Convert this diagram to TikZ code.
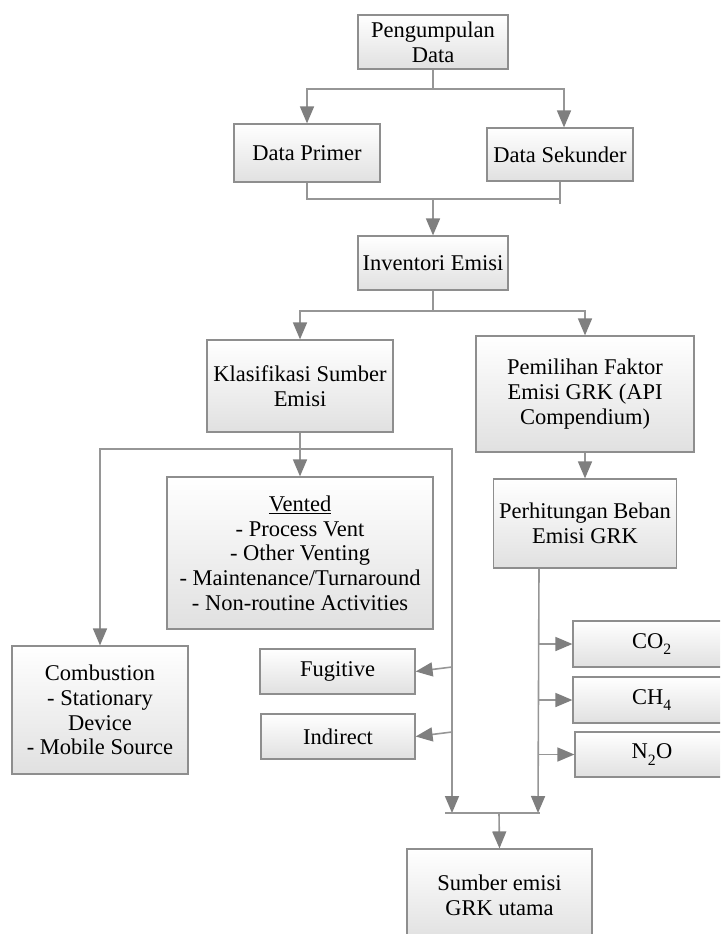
\documentclass[tikz,border=0pt]{standalone}
\usepackage{fontspec}
\setmainfont{Liberation Serif}
\usepackage{tikz}
\usetikzlibrary{arrows.meta}
\definecolor{linegray}{HTML}{969696}
\definecolor{tipgray}{HTML}{7F7F7F}
\definecolor{boxline}{HTML}{8E8E8E}
\newcommand{\gassub}[1]{\raisebox{-0.35ex}{\textsubscript{#1}}}

\begin{document}
\begin{tikzpicture}[x=1pt,y=-1pt,
    box/.style={draw=boxline, line width=1.2pt, top color=white, bottom color=black!12, inner sep=0pt, align=center, anchor=center},
    conn/.style={draw=linegray, line width=1.6pt},
    arr/.style={conn, -{Triangle[length=17pt,width=14pt,color=tipgray]}}]
\useasboundingbox (0,0) rectangle (720,934);
\clip (0,0) rectangle (720,934);
\fontsize{22.5}{24.7}\selectfont
\node[box, minimum width=150pt, minimum height=54pt] (pd) at (433,42) {Pengumpulan\\Data};
\node[box, minimum width=146pt, minimum height=58pt] (dp) at (307,153) {Data Primer};
\node[box, minimum width=146pt, minimum height=53pt] (ds) at (560,154.5) {Data Sekunder};
\node[box, minimum width=150pt, minimum height=54pt] (ie) at (433,263) {Inventori Emisi};
\node[box, minimum width=186pt, minimum height=92pt] (ks) at (300,386) {Klasifikasi Sumber\\Emisi};
\node[box, minimum width=218pt, minimum height=116pt] (pf) at (585,394) {Pemilihan Faktor\\Emisi GRK (API\\Compendium)};
\node[box, minimum width=183pt, minimum height=89pt] (pb) at (585,523.5) {Perhitungan Beban\\Emisi GRK};
\node[box, minimum width=266pt, minimum height=152pt] (vt) at (300,553) {\underline{Vented}\\- Process Vent\\- Other Venting\\- Maintenance/Turnaround\\- Non-routine Activities};
\node[box, minimum width=176pt, minimum height=128pt] (cb) at (100,710) {Combustion\\- Stationary\\Device\\- Mobile Source};
\node[box, minimum width=155pt, minimum height=45pt] (fg) at (337.5,671.5) {Fugitive};
\node[box, minimum width=154pt, minimum height=45pt] (id) at (338,736.5) {Indirect};
\node[box, minimum width=158pt, minimum height=46pt] (co) at (652,644) {CO\gassub{2}};
\node[box, minimum width=158pt, minimum height=46pt] (ch) at (652,700) {CH\gassub{4}};
\node[box, minimum width=154pt, minimum height=45pt] (no) at (652,754.5) {N\gassub{2}O};
\node[box, minimum width=185pt, minimum height=92pt] (su) at (499.5,895) {Sumber emisi\\GRK utama};

\coordinate (j1) at (433,89);
\coordinate (j2) at (433,199);
\coordinate (j3) at (433,311);
\coordinate (j4) at (300,449);
\coordinate (jb1) at (452,813);
\coordinate (jb2) at (538,813);
\coordinate (jb3) at (499,813);

\draw[conn] (pd.south) -- (j1);
\draw[arr] (j1) -| (dp.north);
\draw[arr] (j1) -| ([xshift=4pt]ds.north);
\draw[conn] (dp.south) |- (j2) -| (ds.south);
\draw[conn] (ds.south) -- ++(0,22);
\draw[arr] (j2) -- (ie.north);
\draw[conn] (ie.south) -- (j3);
\draw[arr] (j3) -| (ks.north);
\draw[arr] (j3) -| (pf.north);
\draw[arr] (pf.south) -- (pb.north);
\draw[conn] (ks.south) -- (j4);
\draw[arr] (j4) -- (vt.north);
\draw[arr] (j4) -| (cb.north);
\draw[arr] (j4) -| (jb1);
\draw[arr] ([yshift=4.5pt]fg.east -| jb1) -- (fg.east);
\draw[arr] ([yshift=4.5pt]id.east -| jb1) -- (id.east);
\draw[arr] ([xshift=-46pt]pb.south) -- (jb2);
\draw[arr] (co.west -| jb2) -- (co.west);
\draw[arr] (ch.west -| jb2) -- (ch.west);
\draw[arr] (no.west -| jb2) -- (no.west);
\draw[conn] ([xshift=-7pt]jb1) -- ([xshift=2pt]jb2);
\draw[arr] (jb3) -- (su.north);
\end{tikzpicture}
\end{document}
